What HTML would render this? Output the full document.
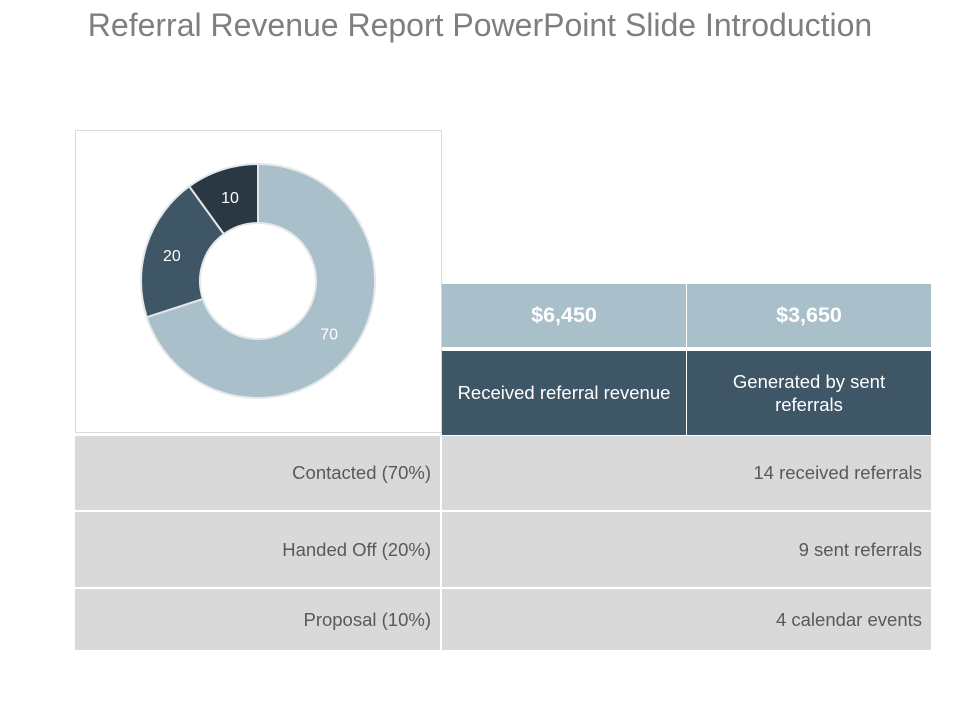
<!DOCTYPE html>
<html><head><meta charset="utf-8"><style>
body{margin:0;width:960px;height:720px;background:#fff;font-family:"Liberation Sans",sans-serif;position:relative;overflow:hidden}
.a{position:absolute;box-sizing:border-box;display:flex;align-items:center}
</style></head><body>
<div class="a" style="left:0;top:3px;width:960px;height:44px;justify-content:center;font-size:32px;color:#7f7f7f">Referral Revenue Report PowerPoint Slide Introduction</div>
<div class="a" style="left:75px;top:130px;width:367px;height:303px;border:1px solid #d9d9d9"></div>
<svg id="donut" style="position:absolute;left:0;top:0" width="960" height="720"></svg>
<div class="a" style="left:442px;top:284px;width:244px;height:63px;background:#a9bfc9;justify-content:center;color:#fff;font-weight:bold;font-size:21.5px">$6,450</div>
<div class="a" style="left:687px;top:284px;width:244px;height:63px;background:#a9bfc9;justify-content:center;color:#fff;font-weight:bold;font-size:21.5px">$3,650</div>
<div class="a" style="left:442px;top:351px;width:244px;height:84px;background:#3e5666;justify-content:center;color:#fff;font-size:18.5px;text-align:center">Received referral revenue</div>
<div class="a" style="left:687px;top:351px;width:244px;height:84px;background:#3e5666;justify-content:center;color:#fff;font-size:18.5px;text-align:center;line-height:23px">Generated by sent<br>referrals</div>
<div class="a" style="left:75px;top:436px;width:365px;height:74px;background:#d9d9d9;justify-content:flex-end;padding-right:9px;color:#595959;font-size:18.5px">Contacted (70%)</div>
<div class="a" style="left:442px;top:436px;width:489px;height:74px;background:#d9d9d9;justify-content:flex-end;padding-right:9px;color:#595959;font-size:18.5px">14 received referrals</div>
<div class="a" style="left:75px;top:512px;width:365px;height:75px;background:#d9d9d9;justify-content:flex-end;padding-right:9px;color:#595959;font-size:18.5px">Handed Off (20%)</div>
<div class="a" style="left:442px;top:512px;width:489px;height:75px;background:#d9d9d9;justify-content:flex-end;padding-right:9px;color:#595959;font-size:18.5px">9 sent referrals</div>
<div class="a" style="left:75px;top:589px;width:365px;height:61px;background:#d9d9d9;justify-content:flex-end;padding-right:9px;color:#595959;font-size:18.5px">Proposal (10%)</div>
<div class="a" style="left:442px;top:589px;width:489px;height:61px;background:#d9d9d9;justify-content:flex-end;padding-right:9px;color:#595959;font-size:18.5px">4 calendar events</div>
<script>
const categories=["Contacted","Handed Off","Proposal"];
const values=[70,20,10];
const colors=["#a9bfc9","#3e5666","#2a3843"];
const svg=document.getElementById('donut');
const cx=258,cy=281,R=117,r=58;
const total=values.reduce((a,b)=>a+b,0);
let acc=0;
function pt(rad,f){const a=f*2*Math.PI-Math.PI/2;return [cx+rad*Math.cos(a),cy+rad*Math.sin(a)];}
values.forEach((v,i)=>{
  const f0=acc/total,f1=(acc+v)/total;acc+=v;
  const large=(f1-f0)>0.5?1:0;
  const [x0,y0]=pt(R,f0),[x1,y1]=pt(R,f1),[x2,y2]=pt(r,f1),[x3,y3]=pt(r,f0);
  const p=document.createElementNS('http://www.w3.org/2000/svg','path');
  p.setAttribute('d',`M${x0},${y0}A${R},${R} 0 ${large} 1 ${x1},${y1}L${x2},${y2}A${r},${r} 0 ${large} 0 ${x3},${y3}Z`);
  p.setAttribute('fill',colors[i]);p.setAttribute('stroke','#e4e8ea');p.setAttribute('stroke-width','2');
  
  
  svg.appendChild(p);
  const fm=(f0+f1)/2;const lr=i===0?88:(R+r)/2+3;const [lx,ly]=pt(lr,fm);
  const t=document.createElementNS('http://www.w3.org/2000/svg','text');
  t.setAttribute('x',i===0?lx:lx);t.setAttribute('y',(i===0?ly+1:ly+2)+6);t.setAttribute('text-anchor','middle');
  t.setAttribute('fill','#fff');t.setAttribute('font-size','16');t.setAttribute('font-family','Liberation Sans, sans-serif');
  
  
  t.textContent=v;svg.appendChild(t);
});
</script>
</body></html>
